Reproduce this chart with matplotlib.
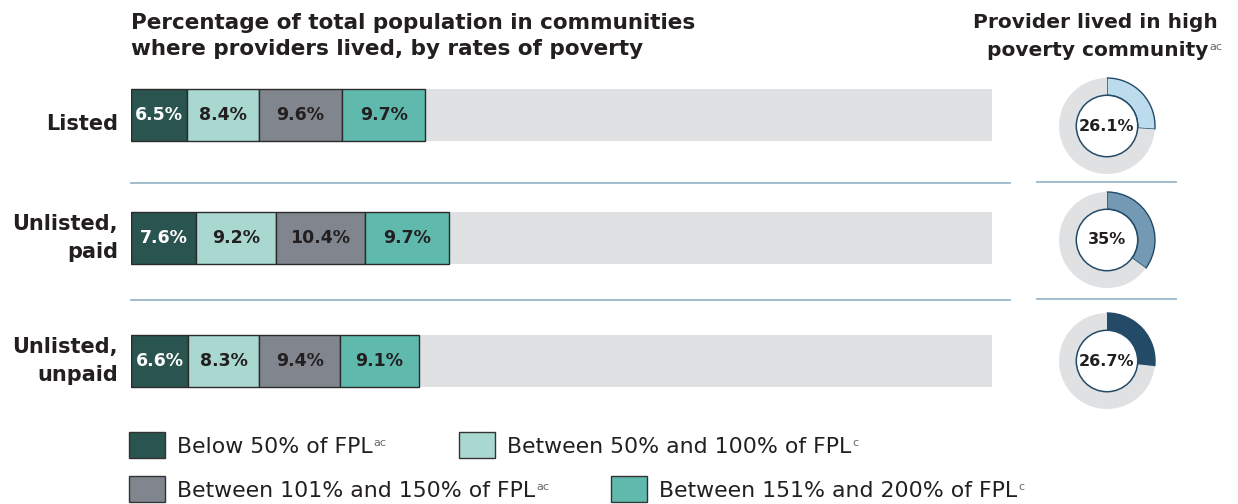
import matplotlib.pyplot as plt
from matplotlib.patches import Circle, Rectangle
from matplotlib.lines import Line2D

plt.rcParams['font.family'] = ['DejaVu Sans']

W, H = 1238, 504

# data
groups = ['Listed', 'Unlisted,\npaid', 'Unlisted,\nunpaid']
below_50 = [6.5, 7.6, 6.6]
between_50_100 = [8.4, 9.2, 8.3]
between_101_150 = [9.6, 10.4, 9.4]
between_151_200 = [9.7, 9.7, 9.1]
high_poverty = [26.1, 35.0, 26.7]
high_poverty_labels = ['26.1%', '35%', '26.7%']

series = [below_50, between_50_100, between_101_150, between_151_200]
series_colors = ['#2a544f', '#a8d8cf', '#80858e', '#5fb9ad']
label_colors = ['white', '#231f20', '#231f20', '#231f20']
legend_labels = [('Below 50% of FPL', 'ac'), ('Between 50% and 100% of FPL', 'c'),
                 ('Between 101% and 150% of FPL', 'ac'), ('Between 151% and 200% of FPL', 'c')]
donut_colors = ['#bcdcee', '#7499b4', '#234b68']

text_color = '#231f20'
bg_gray = '#e0e1e3'
sep_color = '#9ab7c9'


def fx(x):
    return x / W


def fy(y):
    return 1 - y / H


fig = plt.figure(figsize=(W / 100, H / 100), dpi=100)

# stacked bars
ax = fig.add_axes([fx(131), fy(422.5), 861 / W, 369 / H])
ax.set_xlim(0, 100)
ax.set_ylim(2.5, -0.5)
ax.axis('off')

ypos = list(range(len(groups)))
ax.barh(ypos, [100] * len(groups), height=0.42, color=bg_gray, linewidth=0)

left = [0] * len(groups)
for vals, col, tcol in zip(series, series_colors, label_colors):
    ax.barh(ypos, vals, left=left, height=0.42, color=col, edgecolor='#2b2b2b', linewidth=1)
    for i, v in enumerate(vals):
        ax.text(left[i] + v / 2, ypos[i], f'{v}%', ha='center', va='center',
                fontsize=12.5, fontweight='bold', color=tcol)
    left = [l + v for l, v in zip(left, vals)]

for i, g in enumerate(groups):
    yoff = 0.07 if '\n' not in g else 0.0
    ax.text(-1.5, ypos[i] + yoff, g, ha='right', va='center', fontsize=15, fontweight='bold',
            color=text_color, linespacing=1.55)

# separators
for ysep in [0.55, 1.5]:
    ax.plot([0, 102.1], [ysep, ysep], color=sep_color, lw=1.3, clip_on=False)
for ysep in [182, 299]:
    fig.add_artist(Line2D([fx(1037), fx(1176)], [fy(ysep), fy(ysep)], color=sep_color, lw=1.3))

# donuts
centers = [126, 240, 361]
for cy, val, lab, col in zip(centers, high_poverty, high_poverty_labels, donut_colors):
    dax = fig.add_axes([fx(1107 - 52), fy(cy + 52), 104 / W, 104 / H])
    wedges, _ = dax.pie([val, 100 - val], colors=[col, bg_gray], startangle=90,
                        counterclock=False, radius=1,
                        wedgeprops=dict(width=0.36, linewidth=0))
    wedges[0].set_edgecolor('#234b68')
    wedges[0].set_linewidth(1)
    dax.add_patch(Circle((0, 0), 0.64, facecolor='white', edgecolor='#234b68', lw=1.1, zorder=5))
    dax.text(0, 0, lab, ha='center', va='center', fontsize=11.5, fontweight='bold',
             color=text_color, zorder=6)
    dax.set_xlim(-52 / 48, 52 / 48)
    dax.set_ylim(-52 / 48, 52 / 48)

# titles
fig.text(fx(131), fy(36), 'Percentage of total population in communities\nwhere providers lived, by rates of poverty',
         ha='left', va='center', fontsize=15.5, fontweight='bold', color=text_color, linespacing=1.35)
fig.text(fx(1095), fy(22), 'Provider lived in high', ha='center', va='center',
         fontsize=14.5, fontweight='bold', color=text_color)
t2 = fig.text(fx(1098), fy(50), 'poverty community', ha='center', va='center',
              fontsize=14.5, fontweight='bold', color=text_color)

# legend
legend_pos = [(129, 445), (459, 445), (129, 489), (611, 489)]
fig.canvas.draw()
renderer = fig.canvas.get_renderer()
sup_items = []
for (x, y), col, (txt, sup) in zip(legend_pos, series_colors, legend_labels):
    fig.add_artist(Rectangle((fx(x), fy(y + 13)), 36 / W, 26 / H, transform=fig.transFigure,
                             facecolor=col, edgecolor='#333333', lw=1))
    t = fig.text(fx(x + 48), fy(y + 2), txt, ha='left', va='center', fontsize=15.8,
                 fontweight='normal', color=text_color)
    sup_items.append((t, sup))
sup_items.append((t2, 'ac'))

fig.canvas.draw()
for t, sup in sup_items:
    bb = t.get_window_extent(renderer)
    fig.text(bb.x1 / W + 1 / W, bb.y1 / H - 6 / H, sup, ha='left', va='center',
             fontsize=8, fontweight='normal', color='#666666')

fig.savefig('out.png', dpi=100)
